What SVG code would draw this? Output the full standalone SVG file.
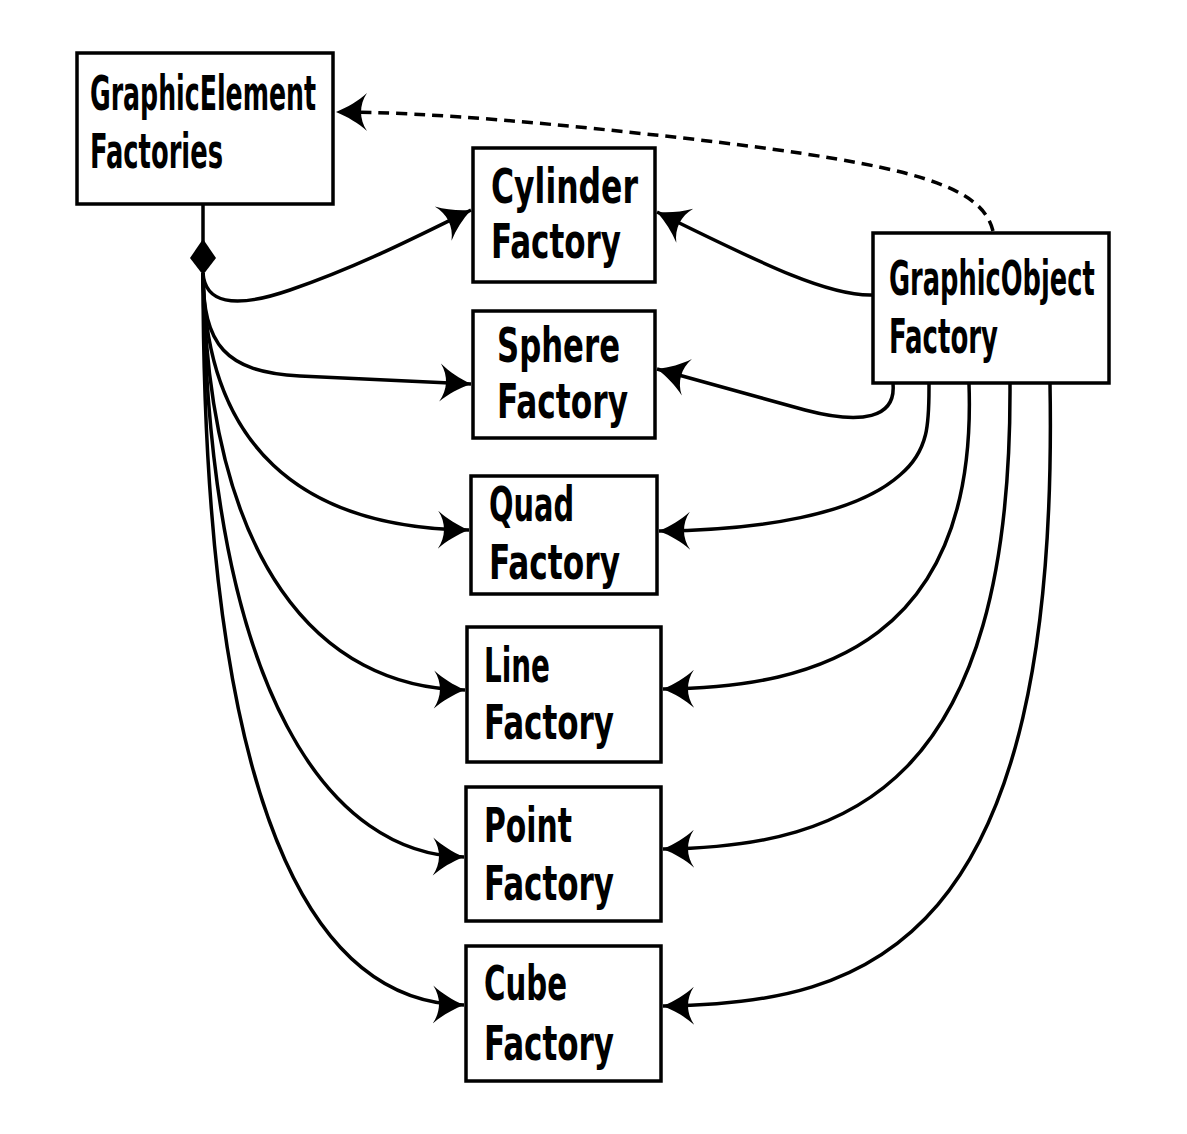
<svg xmlns="http://www.w3.org/2000/svg" width="1187" height="1134" viewBox="0 0 1187 1134">
<style>
.box{fill:#fff;stroke:#000;stroke-width:3.5}
.t{font-family:"Liberation Sans Narrow","DejaVu Sans Condensed","Liberation Sans",sans-serif;font-stretch:condensed;font-weight:bold;font-size:48px;fill:#000}
.c{fill:none;stroke:#000;stroke-width:3.5}
.d{fill:none;stroke:#000;stroke-width:3.5;stroke-dasharray:11 7}
</style>
<defs>
<marker id="arr" markerUnits="userSpaceOnUse" markerWidth="40" markerHeight="40" viewBox="-34 -20 36 40" refX="0" refY="0" orient="auto">
<path d="M0,0 C-12,-5 -22,-11 -31,-19 C-23,-7 -23,7 -31,19 C-22,11 -12,5 0,0 Z" fill="#000"/>
</marker>
</defs>
<g id="connectors">
<line class="c" x1="203" y1="204" x2="203" y2="242"/>
<path d="M203,239 L216,258 L203,275 L190,258 Z" fill="#000"/>
<path class="c" marker-end="url(#arr)" d="M203,273 C205,302 232,310 290,290 C360,266 420,235 471,210"/>
<path class="c" marker-end="url(#arr)" d="M203,273 C203,345 225,372 300,376 L471,384"/>
<path class="c" marker-end="url(#arr)" d="M203,273 C205,445 300,528 469,530"/>
<path class="c" marker-end="url(#arr)" d="M203,273 C208,565 320,688 465,690"/>
<path class="c" marker-end="url(#arr)" d="M203,273 C208,705 335,855 464,857"/>
<path class="c" marker-end="url(#arr)" d="M203,273 C203,865 335,1003 464,1005"/>
<path class="c" marker-end="url(#arr)" d="M872,295 C830,296 770,268 657,212"/>
<path class="c" marker-end="url(#arr)" d="M893,384 C896,418 862,425 805,410 L657,369"/>
<path class="c" marker-end="url(#arr)" d="M929,384 C929,420 930,450 900,475 C855,515 760,530 659,531"/>
<path class="c" marker-end="url(#arr)" d="M969,384 C978,640 820,688 663,689"/>
<path class="c" marker-end="url(#arr)" d="M1010,384 C1012,785 850,847 663,849"/>
<path class="c" marker-end="url(#arr)" d="M1050,384 C1060,945 870,1004 663,1006"/>
<path class="d" marker-end="url(#arr)" d="M993,231 C982,185 910,165 700,140 C560,124 430,112 336,112"/>
</g>
<g id="graphicElementFactories">
<rect class="box" x="77" y="53" width="256" height="151"/>
<text class="t" x="90" y="110" textLength="226" lengthAdjust="spacingAndGlyphs">GraphicElement</text>
<text class="t" x="90" y="168" textLength="133" lengthAdjust="spacingAndGlyphs">Factories</text>
</g>
<g id="cylinderFactory">
<rect class="box" x="473" y="148" width="182" height="134"/>
<text class="t" x="491" y="203" textLength="147" lengthAdjust="spacingAndGlyphs">Cylinder</text>
<text class="t" x="491" y="258" textLength="130" lengthAdjust="spacingAndGlyphs">Factory</text>
</g>
<g id="sphereFactory">
<rect class="box" x="473" y="311" width="182" height="127"/>
<text class="t" x="497" y="362" textLength="123" lengthAdjust="spacingAndGlyphs">Sphere</text>
<text class="t" x="497" y="418" textLength="131" lengthAdjust="spacingAndGlyphs">Factory</text>
</g>
<g id="quadFactory">
<rect class="box" x="471" y="476" width="186" height="118"/>
<text class="t" x="489" y="521" textLength="85" lengthAdjust="spacingAndGlyphs">Quad</text>
<text class="t" x="489" y="579" textLength="131" lengthAdjust="spacingAndGlyphs">Factory</text>
</g>
<g id="lineFactory">
<rect class="box" x="467" y="627" width="194" height="135"/>
<text class="t" x="484" y="682" textLength="66" lengthAdjust="spacingAndGlyphs">Line</text>
<text class="t" x="484" y="739" textLength="130" lengthAdjust="spacingAndGlyphs">Factory</text>
</g>
<g id="pointFactory">
<rect class="box" x="466" y="787" width="195" height="134"/>
<text class="t" x="484" y="842" textLength="88" lengthAdjust="spacingAndGlyphs">Point</text>
<text class="t" x="484" y="900" textLength="130" lengthAdjust="spacingAndGlyphs">Factory</text>
</g>
<g id="cubeFactory">
<rect class="box" x="466" y="946" width="195" height="135"/>
<text class="t" x="484" y="1000" textLength="83" lengthAdjust="spacingAndGlyphs">Cube</text>
<text class="t" x="484" y="1060" textLength="130" lengthAdjust="spacingAndGlyphs">Factory</text>
</g>
<g id="graphicObjectFactory">
<rect class="box" x="873" y="233" width="236" height="150"/>
<text class="t" transform="translate(889 295) scale(0.595 1)" font-size="42">GraphicObject</text>
<text class="t" x="889" y="353" font-size="45" textLength="109" lengthAdjust="spacingAndGlyphs">Factory</text>
</g>
</svg>
